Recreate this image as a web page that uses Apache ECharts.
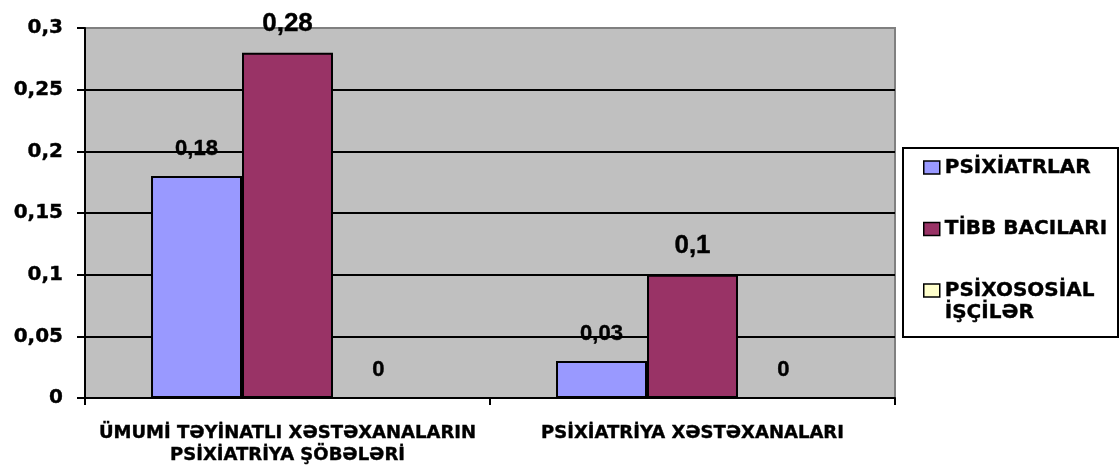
<!DOCTYPE html>
<html>
<head>
<meta charset="utf-8">
<script src="https://cdn.jsdelivr.net/npm/echarts@6/dist/echarts.min.js"></script>
<style>
  html, body { margin: 0; padding: 0; background: #ffffff; }
  #chart { width: 1119px; height: 465px; }
</style>
</head>
<body>
<div id="chart"></div>
<script>
// Hospital categories on the x axis
const categories = [
  'ÜMUMİ TƏYİNATLI XƏSTƏXANALARIN\nPSİXİATRİYA ŞÖBƏLƏRİ',
  'PSİXİATRİYA XƏSTƏXANALARI'
];
// Staff groups (series names)
const seriesNames = ['PSİXİATRLAR', 'TİBB BACILARI', 'PSİXOSOSİAL İŞÇİLƏR'];
// Values per category
const psixiatrlar = [0.18, 0.03];
const tibbBacilari = [0.28, 0.1];
const psixososialIscilar = [0, 0];
// Value axis range
const yMin = 0;
const yMax = 0.3;
const yStep = 0.05;

const colors = ['#9999FF', '#993366', '#FFFFCC'];
const labelSizes = [22, 26, 22];
const seriesData = [psixiatrlar, tibbBacilari, psixososialIscilar];

// Decimal comma, as used in Azerbaijani
const fmt = v => String(+(+v).toFixed(2)).replace('.', ',');

const wideFont = 'DejaVu Sans';
const labelFont = 'Liberation Sans';
// slight outline to give the bold text a heavier look
const heavy = { textBorderColor: '#000000', textBorderWidth: 0.4 };

const chart = echarts.init(document.getElementById('chart'), null, { renderer: 'canvas' });

const series = seriesNames.map((name, i) => ({
  name: name,
  type: 'bar',
  data: seriesData[i],
  barGap: '0%',
  barCategoryGap: '32.6%',
  itemStyle: { color: colors[i], borderColor: '#000000', borderWidth: 2 },
  label: Object.assign({
    show: true,
    position: 'top',
    distance: 16,
    fontFamily: labelFont,
    fontWeight: 'bold',
    fontSize: labelSizes[i],
    lineHeight: labelSizes[i],
    color: '#000000',
    formatter: p => fmt(p.value)
  }, heavy),
  emphasis: { disabled: true }
}));

const legendText = Object.assign({
  fontFamily: wideFont,
  fontWeight: 'bold',
  fontSize: 20,
  lineHeight: 22,
  color: '#000000'
}, heavy);

chart.setOption({
  animation: false,
  backgroundColor: '#ffffff',
  grid: {
    left: 85, right: 224, top: 28, bottom: 67,
    containLabel: false,
    outerBoundsMode: 'none',
    show: true,
    backgroundColor: '#C0C0C0',
    borderColor: '#808080',
    borderWidth: 2
  },
  graphic: [{
    type: 'rect',
    z: 0,
    shape: { x: 903, y: 148, width: 215, height: 189 },
    style: { fill: '#ffffff', stroke: '#000000', lineWidth: 2 }
  }],
  legend: [{
    data: [seriesNames[0], seriesNames[1]],
    orient: 'vertical',
    left: 923, top: 156.5,
    padding: 0,
    itemGap: 39.5,
    itemWidth: 16, itemHeight: 13,
    selectedMode: false,
    icon: 'rect',
    itemStyle: { borderColor: '#000000', borderWidth: 1.5 },
    textStyle: legendText
  }, {
    data: [seriesNames[2]],
    orient: 'vertical',
    left: 923, top: 257.5,
    padding: 0,
    itemWidth: 16, itemHeight: 13,
    selectedMode: false,
    icon: 'rect',
    itemStyle: { borderColor: '#000000', borderWidth: 1.5 },
    // blank first row keeps the marker level with the first text row
    formatter: name => '{s| }\n{t|' + name.split(' ').join('}\n{t|') + '}',
    textStyle: Object.assign({}, legendText, {
      rich: {
        s: { fontSize: 20, lineHeight: 22 },
        t: Object.assign({}, legendText)
      }
    })
  }],
  xAxis: {
    type: 'category',
    data: categories,
    axisLine: { show: true, lineStyle: { color: '#000000', width: 2 } },
    axisTick: { show: true, length: 7, lineStyle: { color: '#000000', width: 2 } },
    axisLabel: Object.assign({
      interval: 0,
      margin: 24,
      fontFamily: wideFont,
      fontWeight: 'bold',
      fontSize: 18,
      lineHeight: 22.5,
      color: '#000000',
      align: 'center'
    }, heavy),
    splitLine: { show: false }
  },
  yAxis: {
    type: 'value',
    min: yMin, max: yMax, interval: yStep,
    axisLine: { show: true, lineStyle: { color: '#000000', width: 2 } },
    axisTick: { show: true, length: 8, lineStyle: { color: '#000000', width: 2 } },
    axisLabel: Object.assign({
      margin: 22,
      fontFamily: wideFont,
      fontWeight: 'bold',
      fontSize: 20,
      color: '#000000',
      formatter: v => fmt(v)
    }, heavy),
    splitLine: {
      show: true,
      showMaxLine: false,
      lineStyle: { color: '#000000', width: 2 }
    }
  },
  series: series
});
</script>
</body>
</html>
